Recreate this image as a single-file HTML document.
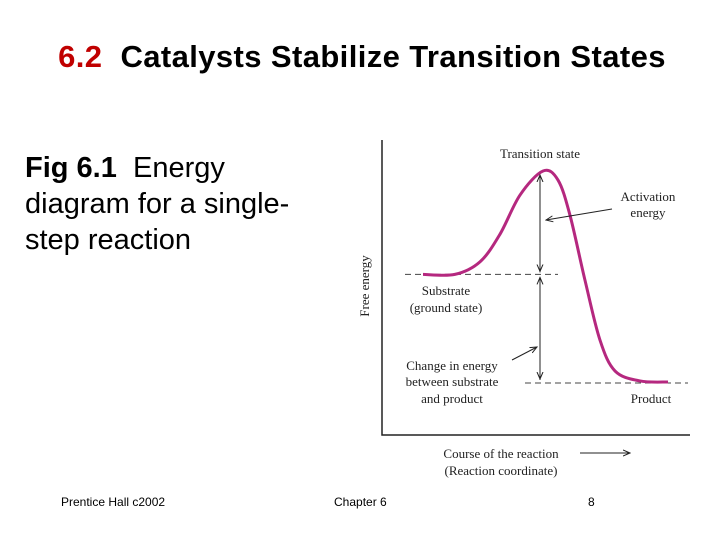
<!DOCTYPE html>
<html><head><meta charset="utf-8"><style>
body{margin:0;width:720px;height:540px;background:#fff;overflow:hidden;font-family:"Liberation Sans",sans-serif;position:relative}
.a{position:absolute;white-space:nowrap}
</style></head><body>
<div class="a" style="left:0;width:724px;text-align:center;top:39px;font-size:31px;font-weight:bold;letter-spacing:0.4px;color:#000"><span style="color:#c00000">6.2</span>&nbsp; Catalysts Stabilize Transition States</div>
<div class="a" style="left:25px;top:150px;font-size:29px;line-height:36px"><b>Fig 6.1</b>&nbsp; Energy<br>diagram for a single-<br>step reaction</div>
<div class="a" style="left:61px;top:495px;font-size:12px">Prentice Hall c2002</div>
<div class="a" style="left:334px;top:495px;font-size:12px">Chapter 6</div>
<div class="a" style="left:588px;top:495px;font-size:12px">8</div>
<svg id="chart" width="720" height="540" style="position:absolute;left:0;top:0" font-family="Liberation Serif, serif" font-size="13" fill="#222">
<defs><marker id="ah" markerWidth="8" markerHeight="8" refX="7" refY="4" orient="auto"><path d="M0,1 L7,4 L0,7" fill="none" stroke="#222" stroke-width="1"/></marker></defs>
</svg>
<script>
const progress=[0,0.13,0.233,0.314,0.396,0.49,0.551,0.6,0.661,0.722,0.784,0.886,1];
const energy=[0.51,0.51,0.57,0.70,0.886,1.0,0.957,0.79,0.483,0.2,0.052,0.005,0];
const substrateE=0.51, productE=0, peakE=1.0;
const X=p=>423+p*245, Y=e=>382-e*(382-171);
const svg=document.getElementById('chart');
const NS='http://www.w3.org/2000/svg';
function mk(t,a){const e=document.createElementNS(NS,t);for(const k in a)e.setAttribute(k,a[k]);svg.appendChild(e);return e;}
let l=mk('path',{d:'M382,140 L382,435 L690,435',fill:'none',stroke:'#222','stroke-width':1.5});


let d=mk('line',{x1:405,x2:558,y1:Y(substrateE),y2:Y(substrateE),stroke:'#444','stroke-dasharray':'6,4'});


d=mk('line',{x1:525,x2:688,y1:Y(productE)+1,y2:Y(productE)+1,stroke:'#444','stroke-dasharray':'6,4'});


let pts=progress.map((p,i)=>[X(p),Y(energy[i])]);
let s='M'+pts[0].join(',');
for(let i=0;i<pts.length-1;i++){const p0=pts[Math.max(0,i-1)],p1=pts[i],p2=pts[i+1],p3=pts[Math.min(pts.length-1,i+2)];
s+=` C${p1[0]+(p2[0]-p0[0])/6},${p1[1]+(p2[1]-p0[1])/6} ${p2[0]-(p3[0]-p1[0])/6},${p2[1]-(p3[1]-p1[1])/6} ${p2[0]},${p2[1]}`;}
let c=mk('path',{d:s,fill:'none',stroke:'#b5287f','stroke-width':3});


const ax=540;
let a1=mk('line',{x1:ax,x2:ax,y1:Y(substrateE)-2,y2:Y(peakE)+4,stroke:'#222','marker-end':'url(#ah)'});


mk('line',{x1:ax,x2:ax,y1:Y(peakE)+20,y2:Y(substrateE)-3,stroke:'#222','marker-end':'url(#ah)'});
let a2=mk('line',{x1:ax,x2:ax,y1:Y(productE)-2,y2:Y(substrateE)+3,stroke:'#222','marker-end':'url(#ah)'});


mk('line',{x1:ax,x2:ax,y1:Y(substrateE)+20,y2:Y(productE)-3,stroke:'#222','marker-end':'url(#ah)'});
mk('line',{x1:612,y1:209,x2:546,y2:220,stroke:'#222','marker-end':'url(#ah)'});
mk('line',{x1:512,y1:360,x2:537,y2:347,stroke:'#222','marker-end':'url(#ah)'});
mk('line',{x1:580,y1:453,x2:630,y2:453,stroke:'#222','marker-end':'url(#ah)'});
const labels=[['Transition state',540,158,'middle','transition-state-label'],['Activation',648,201,'middle','activation-label'],['energy',648,217,'middle','activation-label-2'],
['Substrate',446,295,'middle','substrate-label'],['(ground state)',446,312,'middle','substrate-label-2'],
['Change in energy',452,370,'middle','change-label'],['between substrate',452,386,'middle','change-label-2'],['and product',452,403,'middle','change-label-3'],
['Product',651,403,'middle','product-label'],['Course of the reaction',501,458,'middle','x-axis-title'],['(Reaction coordinate)',501,475,'middle','x-axis-subtitle']];
labels.forEach(([t,x,y,an,n])=>{const e=mk('text',{x,y,'text-anchor':an});e.textContent=t;

});
const yt=mk('text',{x:0,y:0,'text-anchor':'middle',transform:'translate(369,286) rotate(-90)'});yt.textContent='Free energy';


</script>
</body></html>
